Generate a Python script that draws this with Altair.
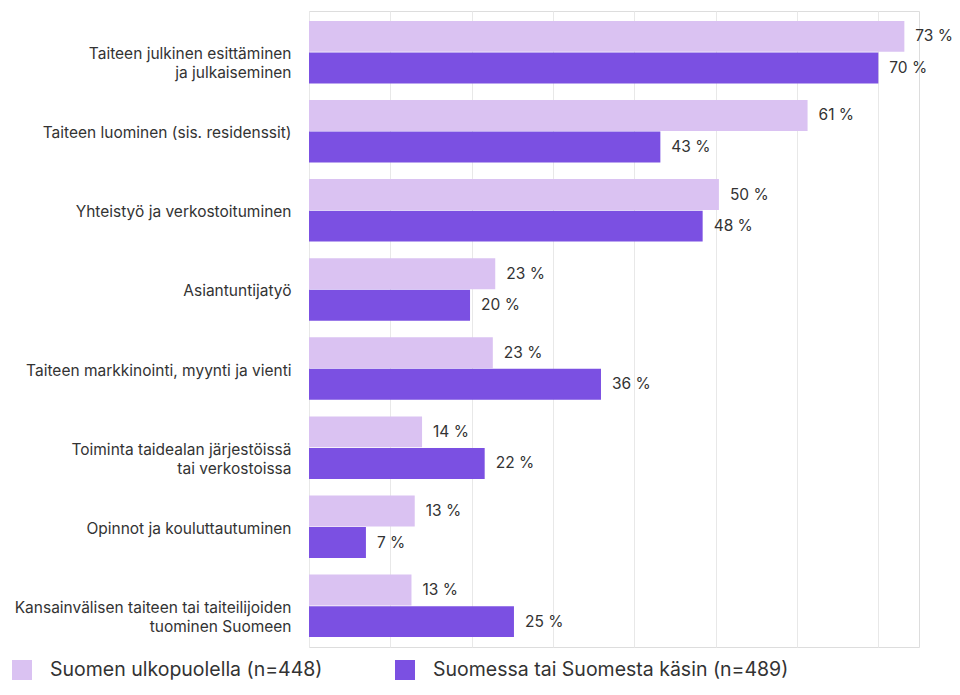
import altair as alt
import pandas as pd

categories = [
    "Taiteen julkinen esittäminen|ja julkaiseminen",
    "Taiteen luominen (sis. residenssit)",
    "Yhteistyö ja verkostoituminen",
    "Asiantuntijatyö",
    "Taiteen markkinointi, myynti ja vienti",
    "Toiminta taidealan järjestöissä|tai verkostoissa",
    "Opinnot ja kouluttautuminen",
    "Kansainvälisen taiteen tai taiteilijoiden|tuominen Suomeen",
]
series = ["Suomen ulkopuolella (n=448)", "Suomessa tai Suomesta käsin (n=489)"]
outside = [73.2, 61.3, 50.4, 22.9, 22.6, 13.9, 13.0, 12.6]
inside = [70.0, 43.2, 48.4, 19.8, 35.9, 21.6, 7.0, 25.2]
colors = ["#dac2f2", "#7b50e2"]

rows = []
for i, c in enumerate(categories):
    rows.append({"cat": c, "series": series[0], "value": outside[i]})
    rows.append({"cat": c, "series": series[1], "value": inside[i]})
df = pd.DataFrame(rows)

FONT = "Inter"
LEFT = 301

y = alt.Y(
    "cat:N",
    sort=categories,
    title=None,
    scale=alt.Scale(paddingInner=0.21, paddingOuter=0.125),
    axis=alt.Axis(
        labelExpr="split(datum.label, '|')",
        labelFontSize=15.5,
        labelColor="#333333",
        labelFont=FONT,
        labelPadding=18,
        labelLimit=400,
        labelLineHeight=19,
        labelOffset=2,
        ticks=False,
        domain=False,
        grid=False,
    ),
)
yoff = alt.YOffset("series:N", sort=series, scale=alt.Scale(paddingInner=0.02))
x = alt.X(
    "value:Q",
    title=None,
    scale=alt.Scale(domain=[0, 75], nice=False),
    axis=alt.Axis(
        values=[0, 10, 20, 30, 40, 50, 60, 70],
        labels=False,
        ticks=False,
        domain=False,
        grid=True,
        gridColor="#e8e8e8",
        gridWidth=1,
    ),
)

bars = alt.Chart(df).mark_bar().encode(
    y=y,
    yOffset=yoff,
    x=x,
    color=alt.Color(
        "series:N",
        sort=series,
        scale=alt.Scale(domain=series, range=colors),
        legend=alt.Legend(
            title=None,
            orient="none",
            legendX=-(LEFT - 4),
            legendY=649,
            direction="horizontal",
            symbolType="square",
            symbolSize=400,
            symbolStrokeWidth=0,
            labelFontSize=19.5,
            labelFont=FONT,
            labelColor="#333333",
            labelOffset=18,
            columnPadding=72,
            labelLimit=500,
        ),
    ),
)

labels = alt.Chart(df).mark_text(
    align="left", baseline="middle", dx=11, fontSize=15.5, font=FONT, color="#333333"
).encode(
    y=alt.Y("cat:N", sort=categories),
    yOffset=alt.YOffset("series:N", sort=series),
    x=alt.X("value:Q"),
    text=alt.Text("label:N"),
).transform_calculate(label="format(round(datum.value), 'd') + ' %'")

chart = (
    alt.layer(bars, labels)
    .properties(
        width=610,
        height=636,
        autosize=alt.AutoSizeParams(type="none"),
        padding={"left": LEFT, "top": 3, "right": 33, "bottom": 36},
    )
    .configure_view(stroke=None)
    .configure(background="white")
)

chart.save("out.html", embed_options={"renderer": "svg", "actions": False})
